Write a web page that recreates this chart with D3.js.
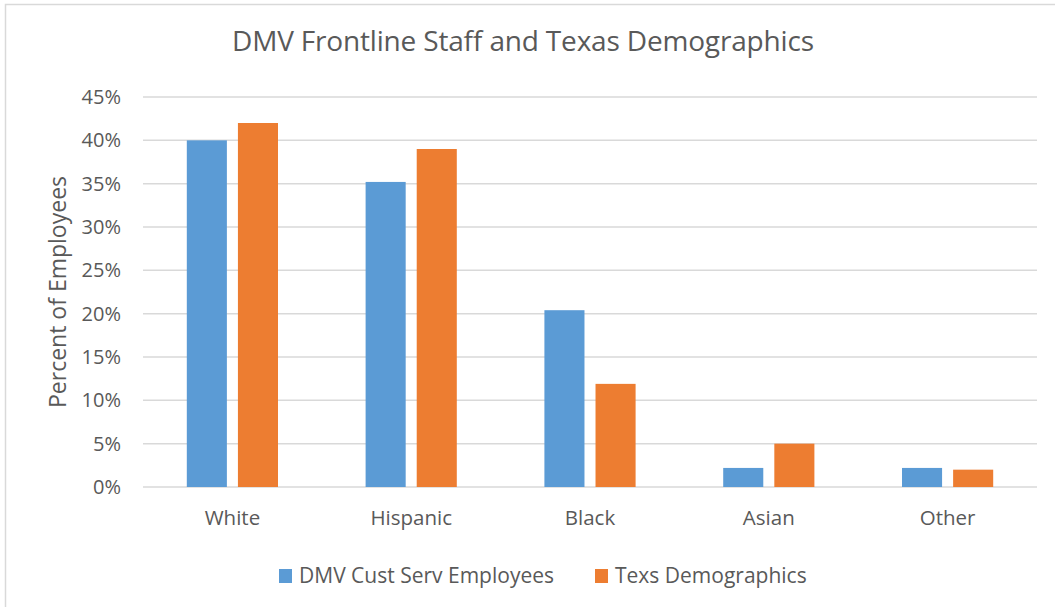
<!DOCTYPE html>
<html>
<head>
<meta charset="utf-8">
<script src="https://cdn.jsdelivr.net/npm/d3@7"></script>
<style>
  body { margin: 0; background: #fff; }
  text { font-family: "Open Sans", "Liberation Sans", sans-serif; fill: #595959; }
</style>
</head>
<body>
<div id="chart-area"></div>
<script>
var categories = ["White", "Hispanic", "Black", "Asian", "Other"];
var seriesNames = ["DMV Cust Serv Employees", "Texs Demographics"];
var dmvValues = [40, 35.2, 20.4, 2.2, 2.2];
var texasValues = [42, 39, 11.9, 5, 2];
var yTicks = [0, 5, 10, 15, 20, 25, 30, 35, 40, 45];
var colors = ["#5b9bd5", "#ed7d31"];

var width = 1055, height = 607;
var margin = {left: 143, right: 18, top: 97, bottom: 120};

var svg = d3.select("#chart-area")
  .append("svg")
  .attr("width", width)
  .attr("height", height);

// chart frame
svg.append("rect")
  .attr("x", 5.5).attr("y", 4.5)
  .attr("width", width + 10).attr("height", height + 10)
  .attr("fill", "none")
  .attr("stroke", "#d9d9d9")
  .attr("stroke-width", 1.5);

var x = d3.scaleBand()
  .domain(categories)
  .range([margin.left, width - margin.right]);

var x1 = d3.scaleBand()
  .domain(seriesNames)
  .range([0, x.bandwidth()])
  .paddingInner(0.216)
  .paddingOuter(0.857);

var y = d3.scaleLinear()
  .domain([0, 45])
  .range([height - margin.bottom, margin.top]);

// gridlines
svg.append("g")
  .selectAll("line")
  .data(yTicks)
  .enter().append("line")
  .attr("x1", margin.left)
  .attr("x2", width - margin.right)
  .attr("y1", function(d) { return y(d); })
  .attr("y2", function(d) { return y(d); })
  .attr("stroke", "#d9d9d9")
  .attr("stroke-width", 1.5);

// y tick labels
var leftAxis = d3.axisLeft(y)
  .tickValues(yTicks)
  .tickSize(0)
  .tickPadding(22)
  .tickFormat(function(d) { return d + "%"; });

var yAxis = svg.append("g")
  .attr("transform", "translate(" + margin.left + ",0)")
  .call(leftAxis);
yAxis.select(".domain").remove();
yAxis.selectAll("text").attr("font-size", "20px").attr("fill", "#595959");

// x labels
var bottomAxis = d3.axisBottom(x).tickSize(0).tickPadding(23);
var xAxis = svg.append("g")
  .attr("transform", "translate(0," + (height - margin.bottom) + ")")
  .call(bottomAxis);
xAxis.select(".domain").remove();
xAxis.selectAll("text").attr("font-size", "20.5px").attr("fill", "#595959");

// bars
var rows = categories.map(function(c, i) {
  return {cat: c, vals: [dmvValues[i], texasValues[i]]};
});

var groups = svg.append("g")
  .selectAll("g")
  .data(rows)
  .enter().append("g")
  .attr("transform", function(d) { return "translate(" + x(d.cat) + ",0)"; });

groups.selectAll("rect")
  .data(function(d) { return d.vals.map(function(v, i) { return {s: seriesNames[i], v: v, i: i}; }); })
  .enter().append("rect")
  .attr("x", function(d) { return x1(d.s); })
  .attr("width", x1.bandwidth())
  .attr("y", function(d) { return y(d.v); })
  .attr("height", function(d) { return y(0) - y(d.v); })
  .attr("fill", function(d) { return colors[d.i]; });

// title
svg.append("text")
  .attr("x", 523)
  .attr("y", 51)
  .attr("text-anchor", "middle")
  .attr("font-size", "28px")
  .attr("textLength", 582)
  .text("DMV Frontline Staff and Texas Demographics");

// y axis title
svg.append("text")
  .attr("transform", "translate(66," + ((y(0) + y(45)) / 2) + ") rotate(-90)")
  .attr("text-anchor", "middle")
  .attr("font-size", "23px")
  .text("Percent of Employees");

// legend
var legendX = [279, 595];
var legend = svg.append("g");
seriesNames.forEach(function(s, i) {
  var row = legend.append("g")
    .attr("transform", "translate(" + legendX[i] + ",569)");
  row.append("rect")
    .attr("width", 13).attr("height", 14)
    .attr("fill", colors[i]);
  row.append("text")
    .attr("x", 20)
    .attr("y", 14)
    .attr("font-size", "21px")
    .text(s);
});
</script>
</body>
</html>
